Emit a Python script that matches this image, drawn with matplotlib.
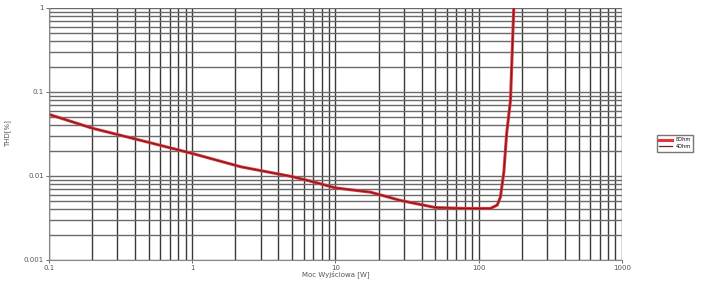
import matplotlib.pyplot as plt
from matplotlib.ticker import FixedLocator, LogLocator, NullFormatter

moc = [0.1, 0.2, 0.5, 1.0, 2.2, 5.0, 7.0, 10, 17.6, 28.5, 50, 80, 121, 135, 142, 150, 157, 167, 176]
thd_8ohm = [0.054, 0.037, 0.025, 0.0185, 0.0128, 0.0098, 0.0085, 0.0072, 0.0064, 0.0051, 0.0042, 0.0041, 0.0041, 0.0045, 0.0056, 0.011, 0.032, 0.08, 1.0]
thd_4ohm = [0.054, 0.037, 0.025, 0.0185, 0.0128, 0.0098, 0.0085, 0.0072, 0.0064, 0.0051, 0.0042, 0.0041, 0.0041, 0.0045, 0.0056, 0.011, 0.032, 0.08, 1.0]

x_ticks = [0.1, 1, 10, 100, 1000]
x_labels = ["0.1", "1", "10", "100", "1000"]
y_ticks = [0.001, 0.01, 0.1, 1]
y_labels = ["0.001", "0.01", "0.1", "1"]

fig = plt.figure(figsize=(7.05, 2.81), dpi=100)
ax = fig.add_axes([0.0695, 0.075, 0.8125, 0.897])

ax.plot(moc, thd_8ohm, color="#e8343a", lw=2.2, label="8Ohm")
ax.plot(moc, thd_4ohm, color="#7a1e24", lw=0.9, label="4Ohm")

ax.set_xscale("log")
ax.set_yscale("log")
ax.set_xlim(0.1, 1000)
ax.set_ylim(0.001, 1)

ax.xaxis.set_major_locator(FixedLocator(x_ticks))
ax.set_xticklabels(x_labels)
ax.yaxis.set_major_locator(FixedLocator(y_ticks))
ax.set_yticklabels(y_labels)
ax.xaxis.set_minor_locator(LogLocator(base=10, subs=range(2, 10)))
ax.yaxis.set_minor_locator(LogLocator(base=10, subs=range(2, 10)))
ax.xaxis.set_minor_formatter(NullFormatter())
ax.yaxis.set_minor_formatter(NullFormatter())

ax.grid(True, which="both", axis="x", color="#3a3a3a", lw=1.0)
ax.grid(True, which="both", axis="y", color="#6a6a6a", lw=1.0)
ax.set_axisbelow(True)

ax.tick_params(which="both", labelsize=5, colors="#555555", length=2, width=0.6, pad=1.5)
ax.tick_params(which="minor", length=0)
for s in ["top", "right"]:
    ax.spines[s].set_visible(False)
for s in ["left", "bottom"]:
    ax.spines[s].set_color("#888888")

ax.set_xlabel("Moc Wyjściowa [W]", fontsize=5, color="#555555")
ax.xaxis.set_label_coords(0.5, -0.042)
ax.set_ylabel("THD[%]", fontsize=5, color="#555555")
ax.yaxis.set_label_coords(-0.066, 0.5)

fig.legend(loc="center left", bbox_to_anchor=(0.928, 0.49), fontsize=3.6,
           frameon=True, edgecolor="#555555", fancybox=False, handlelength=2.5,
           borderpad=0.5, labelspacing=0.35)

fig.savefig("out.png", dpi=100)
